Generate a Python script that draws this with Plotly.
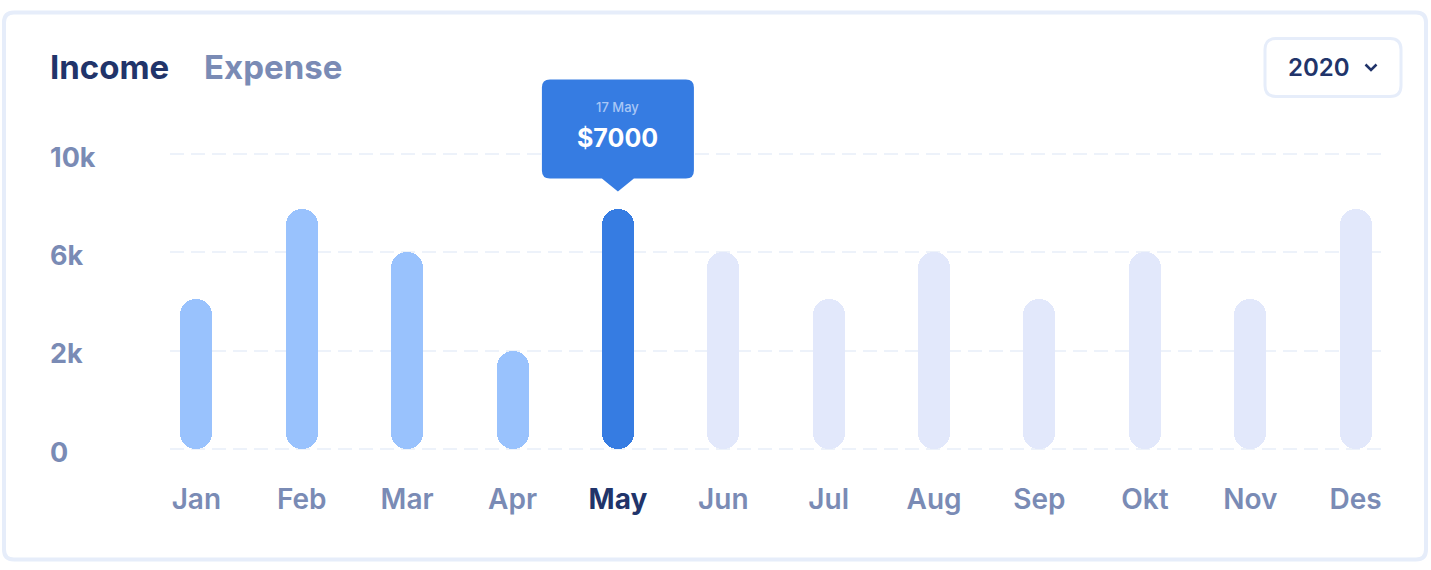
import numpy as np
import plotly.graph_objects as go

# ---------------- data ----------------
months = ["Jan", "Feb", "Mar", "Apr", "May", "Jun", "Jul", "Aug", "Sep", "Okt", "Nov", "Des"]
income = [4100, 7750, 6000, 2000, 7750, 6000, 4100, 6000, 4100, 6000, 4100, 7750]
ytick_values = [0, 2000, 6000, 10000]
ytick_labels = ["0", "2k", "6k", "10k"]
selected_month = "May"
tooltip_date = "17 May"
tooltip_amount = "$7000"
tabs = ["Income", "Expense"]
year_label = "2020"

# ---------------- style ----------------
W, H = 1431, 570
L, R, T, B = 170, 49, 60, 101
PW, PH = W - L - R, H - T - B
FONT = "Inter"
NAVY = "#21346a"
MUTED = "#7a8bb5"
C_PAST = "#99c2fd"
C_SEL = "#367ce2"
C_FUTURE = "#e2e8fb"
GRID = "#edf2fa"
BORDER = "#e6edfa"

# axis levels: tick labels sit at equally spaced positions
levels = np.interp(income, ytick_values, np.arange(len(ytick_values)))
sel_idx = months.index(selected_month)
colors = [C_PAST if i < sel_idx else (C_SEL if i == sel_idx else C_FUTURE) for i in range(len(months))]

def px_x(p):
    return (p - L) / PW

def px_y(p):
    return (H - B - p) / PH

def rel(x, y):
    # screen px -> pixel offsets relative to paper (0,0) anchor (y up)
    return x - L, (H - B) - y

def rounded_rect(x0, y0, x1, y1, r):
    pts = []
    a = rel(x0 + r, y0); pts.append(f"M{a[0]},{a[1]}")
    a = rel(x1 - r, y0); pts.append(f"L{a[0]},{a[1]}")
    c = rel(x1, y0); e = rel(x1, y0 + r); pts.append(f"Q{c[0]},{c[1]} {e[0]},{e[1]}")
    a = rel(x1, y1 - r); pts.append(f"L{a[0]},{a[1]}")
    c = rel(x1, y1); e = rel(x1 - r, y1); pts.append(f"Q{c[0]},{c[1]} {e[0]},{e[1]}")
    a = rel(x0 + r, y1); pts.append(f"L{a[0]},{a[1]}")
    c = rel(x0, y1); e = rel(x0, y1 - r); pts.append(f"Q{c[0]},{c[1]} {e[0]},{e[1]}")
    a = rel(x0, y0 + r); pts.append(f"L{a[0]},{a[1]}")
    c = rel(x0, y0); e = rel(x0 + r, y0); pts.append(f"Q{c[0]},{c[1]} {e[0]},{e[1]}")
    pts.append("Z")
    return " ".join(pts)

fig = go.Figure()
bar_w = 32 / (PW / 11.5)
# upper part (rounded top)
fig.add_trace(go.Bar(x=months, base=levels * 0.25, y=levels * 0.75, width=bar_w,
                     marker=dict(color=colors, cornerradius=16, line=dict(width=0)),
                     hoverinfo="skip", showlegend=False))
# lower part (rounded bottom)
fig.add_trace(go.Bar(x=months, base=levels * 0.75, y=-levels * 0.75, width=bar_w,
                     marker=dict(color=colors, cornerradius=16, line=dict(width=0)),
                     hoverinfo="skip", showlegend=False))

ticktext = [f"<b><span style='color:{NAVY}'>{m}</span></b>" if m == selected_month else m for m in months]

shapes = []
# card border
shapes.append(dict(type="path", xref="paper", yref="paper", xsizemode="pixel", ysizemode="pixel",
                   xanchor=0, yanchor=0, path=rounded_rect(4, 12.5, 1426, 559.5, 10),
                   line=dict(color=BORDER, width=4), fillcolor="rgba(0,0,0,0)", layer="below"))
# dropdown box
shapes.append(dict(type="path", xref="paper", yref="paper", xsizemode="pixel", ysizemode="pixel",
                   xanchor=0, yanchor=0, path=rounded_rect(1265, 38.5, 1401, 96.5, 11),
                   line=dict(color=BORDER, width=3), fillcolor="white", layer="above"))
# chevron
c1, c2, c3 = rel(1365.5, 64.5), rel(1371, 70), rel(1376.5, 64.5)
shapes.append(dict(type="path", xref="paper", yref="paper", xsizemode="pixel", ysizemode="pixel",
                   xanchor=0, yanchor=0,
                   path=f"M{c1[0]},{c1[1]} L{c2[0]},{c2[1]} L{c3[0]},{c3[1]}",
                   line=dict(color=NAVY, width=2.5), layer="above"))
# tooltip bubble anchored at selected bar top
r = 8
tip_path = (f"M{-76 + r},31 L-16,31 L0,18 L16,31 L{76 - r},31 Q76,31 76,{31 + r} "
            f"L76,{130 - r} Q76,130 {76 - r},130 L{-76 + r},130 Q-76,130 -76,{130 - r} "
            f"L-76,{31 + r} Q-76,31 {-76 + r},31 Z")
shapes.append(dict(type="path", xref="x", yref="y", xsizemode="pixel", ysizemode="pixel",
                   xanchor=selected_month, yanchor=float(levels[sel_idx]), path=tip_path,
                   line=dict(width=0), fillcolor=C_SEL, layer="above"))

annotations = []
# y tick labels (left aligned)
for v, lab in zip(range(len(ytick_labels)), ytick_labels):
    annotations.append(dict(text=lab, x=px_x(48), xref="paper", xanchor="left", y=v, yref="y",
                            yanchor="middle", yshift=-3, showarrow=False,
                            font=dict(family=FONT, size=27, color=MUTED, weight=700)))
# tabs
annotations.append(dict(text=tabs[0], x=px_x(48), xref="paper", xanchor="left", y=px_y(67), yref="paper",
                        yanchor="middle", showarrow=False, font=dict(family=FONT, size=33, color=NAVY, weight=700)))
annotations.append(dict(text=tabs[1], x=px_x(202), xref="paper", xanchor="left", y=px_y(67), yref="paper",
                        yanchor="middle", showarrow=False, font=dict(family=FONT, size=33, color=MUTED, weight=700)))
# year
annotations.append(dict(text=year_label, x=px_x(1318.5), xref="paper", xanchor="center", y=px_y(67), yref="paper",
                        yanchor="middle", showarrow=False, font=dict(family=FONT, size=24, color=NAVY, weight=600)))
# tooltip text
annotations.append(dict(text=tooltip_date, x=selected_month, xref="x", y=float(levels[sel_idx]), yref="y",
                        yshift=102, yanchor="middle", showarrow=False,
                        font=dict(family=FONT, size=13, color="#a9c7f6", weight=500)))
annotations.append(dict(text=f"<b>{tooltip_amount}</b>", x=selected_month, xref="x", y=float(levels[sel_idx]), yref="y",
                        yshift=71, yanchor="middle", showarrow=False,
                        font=dict(family=FONT, size=25, color="white", weight=700)))

fig.update_layout(
    width=W, height=H,
    margin=dict(l=L, r=R, t=T, b=B),
    paper_bgcolor="white", plot_bgcolor="white",
    barmode="overlay", bargap=0,
    showlegend=False,
    font=dict(family=FONT),
    shapes=shapes, annotations=annotations,
    xaxis=dict(type="category", range=[-0.25, 11.25], tickvals=months, ticktext=ticktext,
               showgrid=False, zeroline=False, showline=False,
               ticks="outside", ticklen=5, tickcolor="rgba(0,0,0,0)",
               tickfont=dict(family=FONT, size=28, color=MUTED, weight=600)),
    yaxis=dict(range=[-0.2, 3.955], tickvals=list(range(len(ytick_labels))), showticklabels=False,
               showgrid=True, gridcolor=GRID, gridwidth=2, griddash="14px,7px",
               zeroline=False, showline=False, ticks=""),
)

fig.write_html("out.html", config={"displayModeBar": False},
               post_script="document.body.style.margin='0px';")
